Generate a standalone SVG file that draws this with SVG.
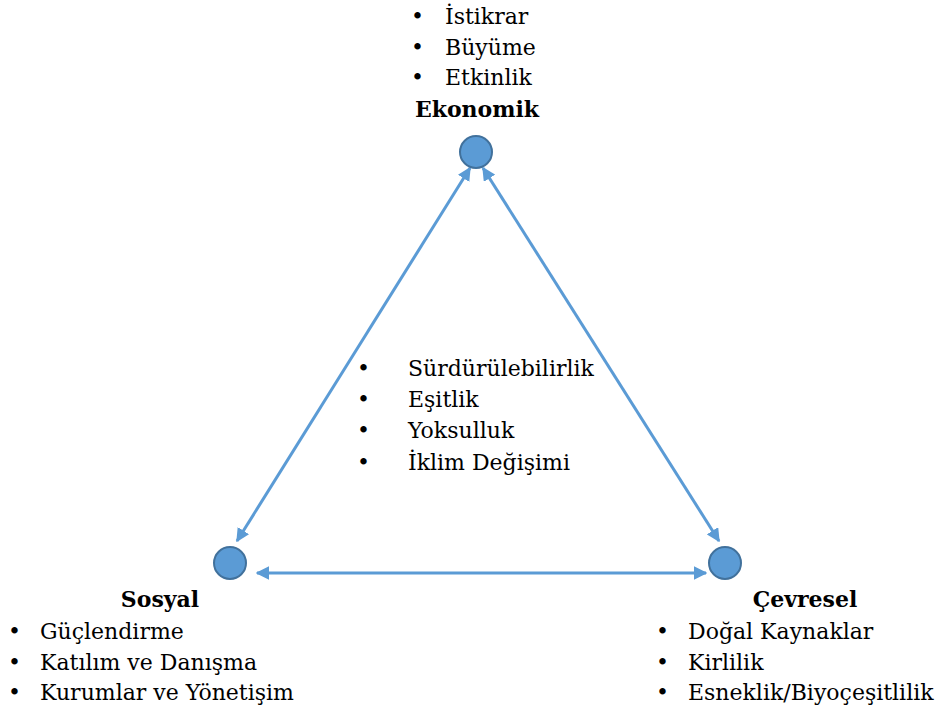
<svg xmlns="http://www.w3.org/2000/svg" width="950" height="713" viewBox="0 0 950 713">
<style>
text{font-family:'DejaVu Serif','Liberation Serif',serif;font-size:22px;fill:#000}
.b{font-weight:bold}
.node{fill:#5b9bd5;stroke:#41719c;stroke-width:2}
.conn{stroke:#5b9bd5;stroke-width:3;fill:none;marker-start:url(#ah);marker-end:url(#ah)}
</style>
<defs>
<marker id="ah" viewBox="0 0 10 10" refX="9" refY="5" markerWidth="4.5" markerHeight="4.5" orient="auto-start-reverse" markerUnits="strokeWidth">
<path d="M0,0 L10,5 L0,10 z" fill="#5b9bd5"/>
</marker>
</defs>
<rect width="950" height="713" fill="#fff"/>
<g id="connectors">
<line class="conn" x1="470" y1="168" x2="237" y2="541"/>
<line class="conn" x1="483" y1="168" x2="719" y2="541"/>
<line class="conn" x1="257" y1="573" x2="706" y2="573"/>
</g>
<g id="ekonomik">
<circle class="node" cx="476" cy="152" r="16"/>
<text x="411" y="24">•</text><text x="445" y="24">İstikrar</text>
<text x="411" y="55">•</text><text x="445" y="55">Büyüme</text>
<text x="411" y="85">•</text><text x="445" y="85">Etkinlik</text>
<text class="b" x="477" y="117" text-anchor="middle">Ekonomik</text>
</g>
<g id="sosyal">
<circle class="node" cx="230" cy="563" r="16"/>
<text class="b" x="160" y="607" text-anchor="middle">Sosyal</text>
<text x="8" y="639">•</text><text x="40" y="639">Güçlendirme</text>
<text x="8" y="670">•</text><text x="40" y="670">Katılım  ve Danışma</text>
<text x="8" y="700">•</text><text x="40" y="700">Kurumlar ve Yönetişim</text>
</g>
<g id="cevresel">
<circle class="node" cx="725" cy="563" r="16"/>
<text class="b" x="805" y="607" text-anchor="middle">Çevresel</text>
<text x="656" y="639">•</text><text x="688" y="639">Doğal Kaynaklar</text>
<text x="656" y="670">•</text><text x="688" y="670">Kirlilik</text>
<text x="656" y="700">•</text><text x="688" y="700">Esneklik/Biyoçeşitlilik</text>
</g>
<g id="merkez">
<text x="357" y="376">•</text><text x="408" y="376">Sürdürülebilirlik</text>
<text x="357" y="407">•</text><text x="408" y="407">Eşitlik</text>
<text x="357" y="438">•</text><text x="408" y="438">Yoksulluk</text>
<text x="357" y="470">•</text><text x="408" y="470">İklim Değişimi</text>
</g>
</svg>
